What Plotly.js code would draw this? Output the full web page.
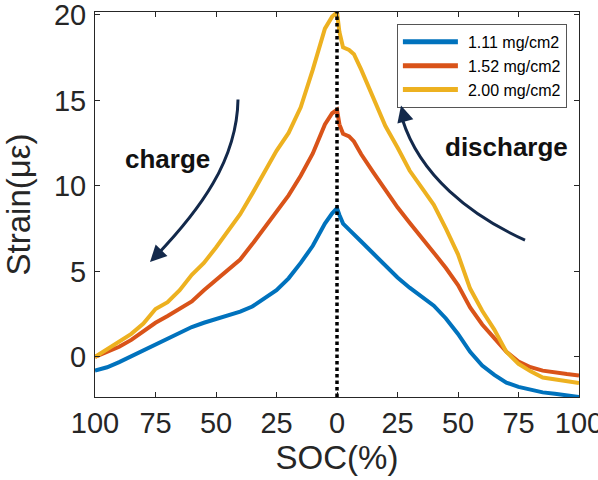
<!DOCTYPE html>
<html>
<head>
<meta charset="utf-8">
<script src="https://cdn.plot.ly/plotly-3.0.1.min.js"></script>
<style>
html,body{margin:0;padding:0;background:#fff;overflow:hidden;}
#chart{width:598px;height:480px;}
</style>
</head>
<body>
<div id="chart"></div>
<script>
// SOC values (%) on the charge branch (left half, 100 -> 0) and discharge branch (right half, 0 -> 100)
const socCharge = [100,95,90,85,80,75,70,65,60,55,50,45,40,35,30,25,20,15,10,5,2,0];
const socDischarge = [1,2.5,5,7,10,15,20,25,30,35,40,45,50,55,60,65,70,75,80,85,90,95,100];

const seriesNames = ['1.11 mg/cm2','1.52 mg/cm2','2.00 mg/cm2'];
const seriesColors = ['#0072BD','#D95319','#EDB120'];

const strainCharge111 = [-0.8,-0.6,-0.3,0.05,0.35,0.7,1.05,1.4,1.75,2.0,2.2,2.4,2.65,2.95,3.4,3.9,4.6,5.5,6.5,7.8,8.4,8.7];
const strainCharge152 = [0,0.3,0.6,1.0,1.5,2.0,2.4,2.8,3.25,3.9,4.5,5.1,5.7,6.6,7.55,8.55,9.45,10.6,11.9,13.6,14.25,14.45];
const strainCharge200 = [0,0.45,0.9,1.35,1.95,2.8,3.2,3.9,4.8,5.5,6.4,7.4,8.35,9.55,10.8,12.05,13.1,14.6,16.8,19.2,19.9,20.15];

const strainDischarge111 = [8.3,7.8,7.45,7.2,6.75,6.05,5.35,4.65,4.05,3.5,3.0,2.25,1.35,0.3,-0.5,-1.05,-1.5,-1.75,-1.93,-2.07,-2.15,-2.25,-2.34];
const strainDischarge152 = [13.6,13.05,12.9,12.6,11.85,10.8,9.75,8.75,7.85,7.0,6.1,5.2,4.2,2.9,1.9,1.1,0.3,-0.27,-0.6,-0.8,-0.92,-1.0,-1.08];
const strainDischarge200 = [19.0,18.1,17.95,17.7,16.8,15.2,13.5,12.25,10.9,9.9,8.9,7.5,6.0,4.0,2.7,1.6,0.3,-0.4,-0.84,-1.2,-1.32,-1.43,-1.52];

const xTickVals = [-100,-75,-50,-25,0,25,50,75,100];
const xTickText = ['100','75','50','25','0','25','50','75','100'];
const yTickVals = [0,5,10,15,20];

const chargeSets = [strainCharge111, strainCharge152, strainCharge200];
const dischargeSets = [strainDischarge111, strainDischarge152, strainDischarge200];

// plot position: charge branch on negative side, discharge on positive side
const xPos = socCharge.map(s => -s).concat(socDischarge);

const traces = seriesNames.map((name, i) => ({
  type: 'scatter',
  mode: 'lines',
  name: name,
  x: xPos,
  y: chargeSets[i].concat(dischargeSets[i]),
  line: {color: seriesColors[i], width: 4}
}));

const axisColor = '#262626';
const yMin = -2.34, yMax = 20.17;

const layout = {
  width: 598,
  height: 480,
  margin: {l: 95, r: 19, t: 12, b: 83},
  paper_bgcolor: '#fff',
  plot_bgcolor: '#fff',
  showlegend: true,
  font: {family: '"Liberation Sans", Arial, sans-serif', color: axisColor},
  xaxis: {
    range: [-100, 100],
    tickvals: xTickVals,
    ticktext: xTickText,
    ticks: 'inside',
    ticklen: 5,
    tickcolor: axisColor,
    showline: true,
    linecolor: axisColor,
    linewidth: 1,
    mirror: 'ticks',
    showgrid: false,
    zeroline: false,
    ticklabeloverflow: 'allow',
    tickfont: {size: 29, color: axisColor},
    title: {text: 'SOC(%)', font: {size: 33, color: axisColor}, standoff: 6},
    automargin: false
  },
  yaxis: {
    range: [yMin, yMax],
    tickvals: yTickVals,
    ticks: 'inside',
    ticklen: 5,
    tickcolor: axisColor,
    showline: true,
    linecolor: axisColor,
    linewidth: 1,
    mirror: 'ticks',
    showgrid: false,
    zeroline: false,
    ticklabeloverflow: 'allow',
    ticklabelstandoff: 2,
    tickfont: {size: 29, color: axisColor},
    title: {text: 'Strain(με)', font: {size: 33, color: axisColor}, standoff: 18},
    automargin: false
  },
  legend: {
    x: 0.975, xanchor: 'right',
    y: 0.969, yanchor: 'top',
    bgcolor: '#fff',
    bordercolor: '#555',
    borderwidth: 1,
    font: {size: 16, color: '#000'},
    itemwidth: 60,
    tracegroupgap: 0
  },
  shapes: [
    {type: 'line', xref: 'x', yref: 'y', x0: 0, x1: 0, y0: yMin, y1: yMax,
     line: {color: '#000', width: 3.5, dash: '3.5px,3px'}, layer: 'above'},
    {type: 'path', xref: 'x', yref: 'y',
     path: 'M-40.91,15.06 C-41.32,11.5 -56.61,8.58 -75.5,5.8',
     line: {color: '#13294B', width: 3}},
    {type: 'path', xref: 'x', yref: 'y',
     path: 'M77.69,6.83 C54.96,8.29 34.3,10.62 27.0,13.9',
     line: {color: '#13294B', width: 3}}
  ],
  annotations: [
    {x: -77.27, y: 5.55, ax: -73.26, ay: 6.13, xref: 'x', yref: 'y', axref: 'x', ayref: 'y',
     text: '', showarrow: true, arrowhead: 2, arrowsize: 1.1, arrowwidth: 3, arrowcolor: '#13294B'},
    {x: 26.45, y: 14.71, ax: 27.97, ay: 13.92, xref: 'x', yref: 'y', axref: 'x', ayref: 'y',
     text: '', showarrow: true, arrowhead: 2, arrowsize: 1.1, arrowwidth: 3, arrowcolor: '#13294B'},
    {x: -70.2, y: 11.6, xref: 'x', yref: 'y', text: '<b>charge</b>', showarrow: false,
     font: {size: 26, color: '#111'}},
    {x: 70.2, y: 12.3, xref: 'x', yref: 'y', text: '<b>discharge</b>', showarrow: false,
     font: {size: 26, color: '#111'}}
  ]
};

Plotly.newPlot('chart', traces, layout, {staticPlot: true, displayModeBar: false}).then(gd => {
  gd.querySelectorAll('.legend .legendlines path').forEach(p => {
    p.setAttribute('d', 'M5,0h55');
    p.style.strokeWidth = '5px';
  });
});
</script>
</body>
</html>
